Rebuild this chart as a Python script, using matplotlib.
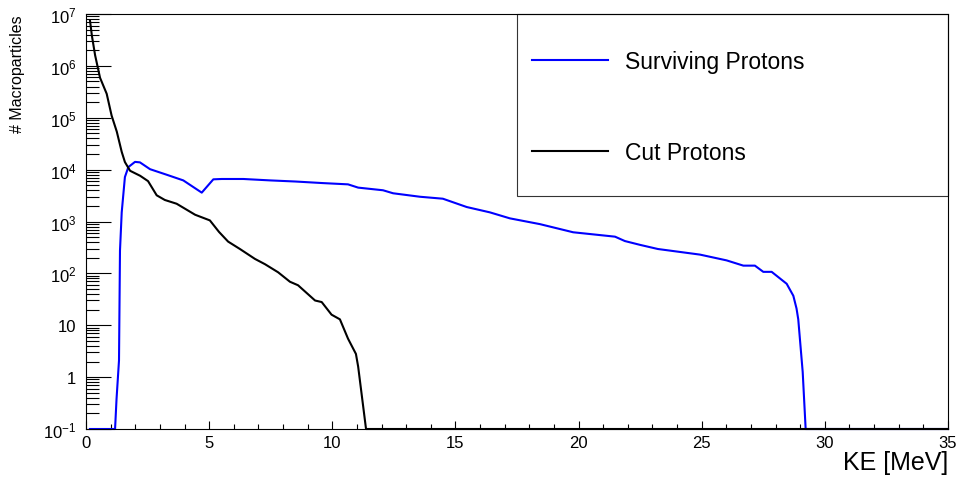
import numpy as np
import matplotlib
matplotlib.use('Agg')
import matplotlib.pyplot as plt
from matplotlib.patches import Rectangle
from matplotlib.ticker import LogLocator, MultipleLocator, FixedLocator, FuncFormatter

plt.rcParams['font.family'] = ['Liberation Sans', 'DejaVu Sans']
plt.rcParams['mathtext.fontset'] = 'custom'
plt.rcParams['mathtext.rm'] = 'Liberation Sans'
plt.rcParams['mathtext.it'] = 'Liberation Sans:italic'

# Surviving protons (blue), KE in MeV vs counts
surv_ke = [0.16, 0.81, 1.18, 1.24, 1.34, 1.38, 1.45, 1.58, 1.72, 1.99, 2.19, 2.60, 3.30, 3.95,
           4.70, 5.17, 5.51, 6.39, 7.47, 8.50, 9.62, 10.64, 11.05, 12.06, 12.47, 13.56, 14.49,
           15.46, 16.40, 17.21, 18.43, 19.78, 21.48, 21.88, 22.49, 23.22, 24.93, 26.01, 26.69,
           27.16, 27.50, 27.84, 28.45, 28.72, 28.85, 28.92, 29.10, 29.22, 35.0]
surv_counts = [0, 0, 0, 0.38, 2.1, 275, 1500, 7200, 11200, 14100, 13800, 10200, 7900, 6200,
               3600, 6500, 6600, 6600, 6200, 5900, 5500, 5200, 4500, 4000, 3500, 3000, 2750,
               1900, 1500, 1150, 890, 620, 510, 420, 355, 295, 230, 178, 141,
               141, 107, 107, 63, 37, 21, 13, 1.26, 0, 0]

# Cut protons (black)
cut_ke = [0.16, 0.24, 0.37, 0.57, 0.84, 1.04, 1.25, 1.45, 1.58, 1.79, 2.20, 2.52, 2.87, 3.20,
          3.68, 4.43, 5.03, 5.40, 5.77, 6.25, 6.86, 7.27, 7.80, 8.28, 8.61, 9.30, 9.57, 9.97,
          10.31, 10.64, 10.96, 11.05, 11.37, 11.65, 35.0]
cut_counts = [7.6e6, 3.8e6, 1.6e6, 5.9e5, 2.9e5, 1.1e5, 5.4e4, 2.2e4, 1.4e4, 9500, 7600, 6000,
              3200, 2600, 2200, 1350, 1050, 630, 410, 295, 190, 150, 105, 69, 59, 30, 28, 16,
              13, 5.5, 2.8, 1.6, 0, 0, 0]

labels = ['Surviving Protons', 'Cut Protons']
ymin, ymax = 0.1, 1e7

fig = plt.figure(figsize=(9.6, 4.81), dpi=100)
ax = fig.add_axes([86 / 960, 51 / 481, 862 / 960, 415 / 481])

# empty bins sit on the bottom of the frame like ROOT does
l1, = ax.plot(surv_ke, np.clip(surv_counts, ymin, None), color='#0000ff', lw=1.5, clip_on=False)
l2, = ax.plot(cut_ke, np.clip(cut_counts, ymin, None), color='black', lw=1.5, clip_on=False)

ax.set_yscale('log')
ax.set_xlim(0, 35)
ax.set_ylim(ymin, ymax)

ax.xaxis.set_major_locator(FixedLocator([0, 5, 10, 15, 20, 25, 30, 35]))
ax.xaxis.set_minor_locator(MultipleLocator(1))
ax.yaxis.set_major_locator(LogLocator(base=10, numticks=20))
ax.yaxis.set_minor_locator(LogLocator(base=10, subs=np.arange(2, 10), numticks=20))


def ylab(v, pos):
    e = int(round(np.log10(v)))
    if e == 0:
        return '1'
    if e == 1:
        return '10'
    return r'$10^{%d}$' % e


ax.yaxis.set_major_formatter(FuncFormatter(ylab))
ax.tick_params(axis='both', which='both', direction='in', top=False, right=False,
               labelsize=12, colors='black', width=0.8)
ax.tick_params(axis='y', which='major', length=18, pad=7)
ax.tick_params(axis='y', which='minor', length=9.5)
ax.tick_params(axis='x', which='major', length=6, pad=4)
ax.tick_params(axis='x', which='minor', length=3.6)
for s in ax.spines.values():
    s.set_linewidth(0.8)

# axis titles pinned to the top / right ends like ROOT
ax.set_ylabel('# Macroparticles', fontsize=11.5)
ax.yaxis.set_label_coords(-68 / 862, 1.0)
ax.yaxis.label.set_ha('right')
ax.yaxis.label.set_va('center')
ax.set_xlabel('KE [MeV]', fontsize=18)
ax.xaxis.set_label_coords(1.0, -33 / 415)
ax.xaxis.label.set_ha('right')
ax.xaxis.label.set_va('center')

# legend box like the ROOT TLegend
ax.add_patch(Rectangle((0.5, 0.561), 0.5, 0.439, transform=ax.transAxes, fill=False,
                       edgecolor='#333333', lw=0.8, clip_on=False))
ax.legend([l1, l2], labels, loc='upper left', bbox_to_anchor=(446 / 862, 0.9124),
          frameon=False, fontsize=16.5, borderpad=0, handlelength=3.32, handletextpad=0.74,
          labelspacing=2.96, borderaxespad=0)

fig.savefig('out.png', dpi=100)
